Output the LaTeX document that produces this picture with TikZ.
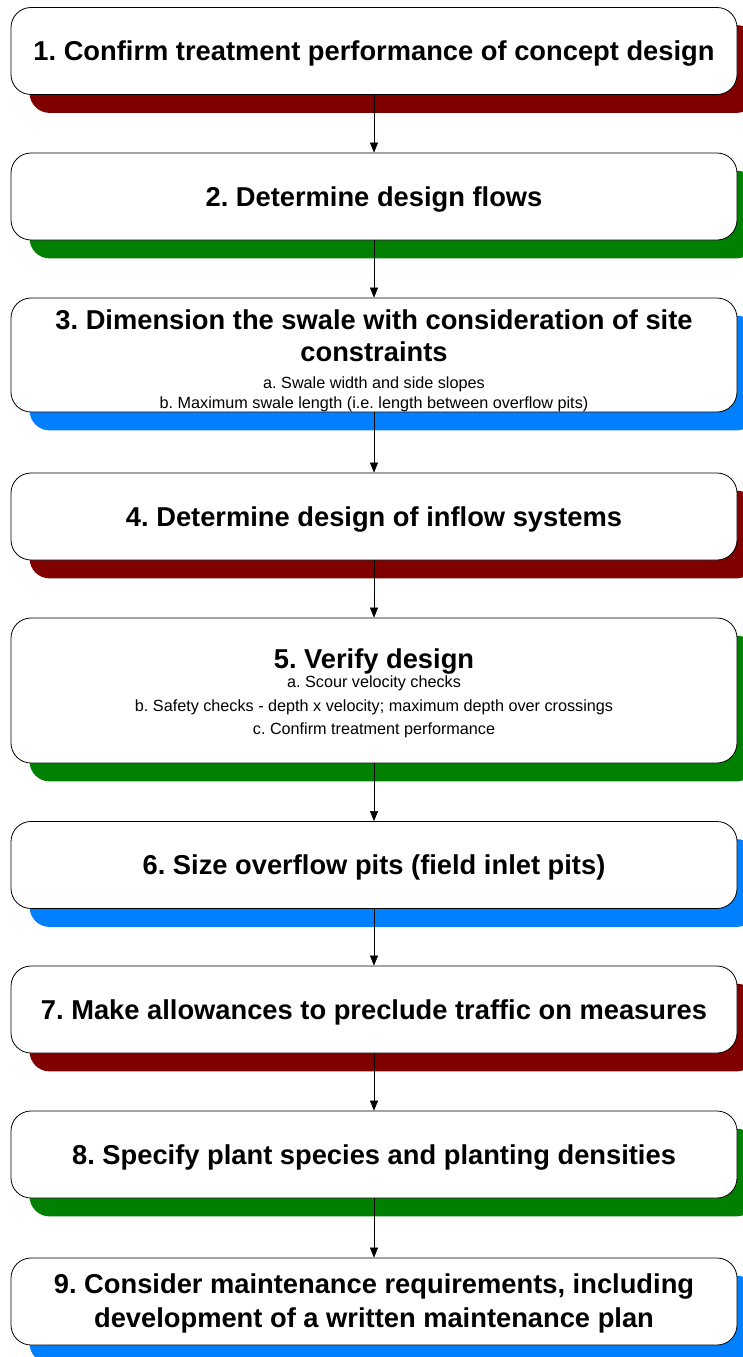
\documentclass[tikz,border=0pt]{standalone}
\usepackage{fontspec}
\setmainfont{Liberation Sans}
\usetikzlibrary{arrows.meta,backgrounds}
\definecolor{shred}{RGB}{128,0,0}
\definecolor{shgreen}{RGB}{0,128,0}
\definecolor{shblue}{RGB}{0,128,255}
\newcommand{\ttl}{\bfseries\fontsize{27.3}{32}\selectfont\spaceskip=0.278em\relax\xspaceskip=0.278em\relax}
\newcommand{\sbt}[1]{\fontsize{16.2}{#1}\selectfont\spaceskip=0.278em\relax\xspaceskip=0.278em\relax}
\newcommand{\tstrut}[1]{\rule{0pt}{#1pt}}
\tikzset{
  stepbox/.style={rectangle, rounded corners=20pt, draw=black, line width=0.8pt, fill=white,
    minimum width=726pt, minimum height=87pt, text width=716pt, align=center, inner sep=0pt},
  arr/.style={draw=black, line width=0.6pt, -{Triangle[length=10pt,width=8pt]}},
  shadowbox/.style={rounded corners=20pt, fill=#1}
}
\newcommand{\shadowof}[2]{\fill[shadowbox=#2] ([shift={(19,18)}]#1.north west) rectangle ([shift={(19,18)}]#1.south east);}
\begin{document}
\begin{tikzpicture}[x=1pt,y=-1pt]
\clip (0,0) rectangle (742,1357);
\node[stepbox] (b1) at (374,51) {\ttl\tstrut{25}1. Confirm treatment performance of concept design\par};
\node[stepbox] (b2) at (374,196.5) {\ttl\tstrut{25}2. Determine design flows\par};
\node[stepbox, minimum height=114pt] (b3) at (374,355) {{\ttl\tstrut{31}3. Dimension the swale with consideration of site\\ constraints\par}{\sbt{20}\vspace{7pt}a. Swale width and side slopes\par b. Maximum swale length (i.e. length between overflow pits)\par}};
\node[stepbox] (b4) at (374,516.5) {\ttl\tstrut{25}4. Determine design of inflow systems\par};
\node[stepbox, minimum height=145pt] (b5) at (374,690.5) {{\ttl\tstrut{25}5. Verify design\par}{\sbt{23.5}\vspace{-4pt}a. Scour velocity checks\par b. Safety checks - depth x velocity; maximum depth over crossings\par c. Confirm treatment performance\par}};
\node[stepbox] (b6) at (374,865) {\ttl\tstrut{25}6. Size overflow pits (field inlet pits)\par};
\node[stepbox] (b7) at (374,1009.5) {\ttl\tstrut{25}7. Make allowances to preclude traffic on measures\par};
\node[stepbox] (b8) at (374,1154.5) {\ttl\tstrut{25}8. Specify plant species and planting densities\par};
\node[stepbox] (b9) at (374,1301.5) {\ttl\tstrut{23}9. Consider maintenance requirements, including\\[2pt] development of a written maintenance plan\par};
\begin{scope}[on background layer]
\fill[white] (0,0) rectangle (742,1357);
\shadowof{b1}{shred}
\shadowof{b2}{shgreen}
\shadowof{b3}{shblue}
\shadowof{b4}{shred}
\shadowof{b5}{shgreen}
\shadowof{b6}{shblue}
\shadowof{b7}{shred}
\shadowof{b8}{shgreen}
\shadowof{b9}{shblue}
\end{scope}
\draw[arr] (b1.south) -- (b2.north);
\draw[arr] (b2.south) -- (b3.north);
\draw[arr] (b3.south) -- (b4.north);
\draw[arr] (b4.south) -- (b5.north);
\draw[arr] (b5.south) -- (b6.north);
\draw[arr] (b6.south) -- (b7.north);
\draw[arr] (b7.south) -- (b8.north);
\draw[arr] (b8.south) -- (b9.north);
\end{tikzpicture}
\end{document}
